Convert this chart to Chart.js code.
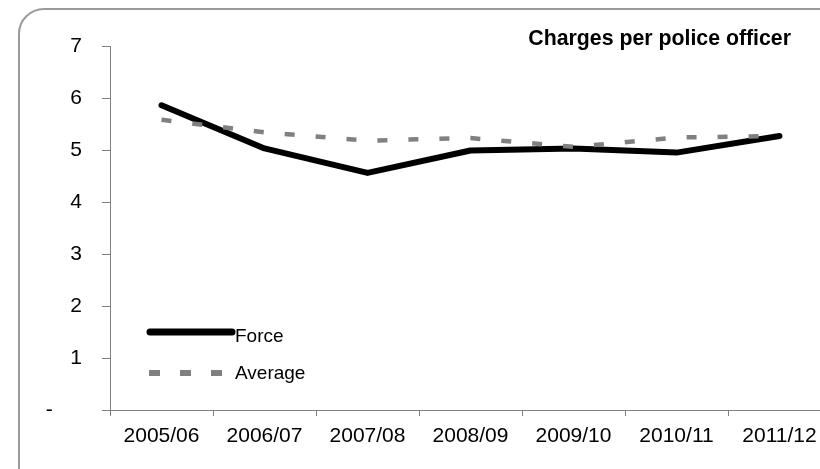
<!DOCTYPE html>
<html>
<head>
<meta charset="utf-8">
<script src="https://cdn.jsdelivr.net/npm/chart.js@4/dist/chart.umd.min.js"></script>
<style>
  html, body { margin: 0; padding: 0; background: #fff; overflow: hidden; }
  .wrap { position: relative; width: 820px; height: 469px; overflow: hidden; }
  .frame {
    position: absolute; left: 18px; top: 8px; width: 900px; height: 520px;
    border: 2px solid #9a9a9a; border-radius: 26px; box-sizing: border-box;
  }
  canvas { position: absolute; left: 0; top: 0; }
</style>
</head>
<body>
<div class="wrap">
  <div class="frame"></div>
  <canvas id="myChart" width="850" height="480"></canvas>
</div>
<script>
// Данные

const categories = ['2005/06', '2006/07', '2007/08', '2008/09', '2009/10', '2010/11', '2011/12']
const forceValues = [5.86, 5.03, 4.56, 4.99, 5.03, 4.95, 5.27]
const averageValues = [5.58, 5.34, 5.18, 5.23, 5.06, 5.24, 5.27]
const yTickLabels = ['-     ', '1', '2', '3', '4', '5', '6', '7']
const chartTitle = 'Charges per police officer'

const font = "'Liberation Sans', Arial, sans-serif"
const axisGray = '#808080'

// Заголовок и легенда внутри области графика

const chartText = {
    id: 'chartText',
    afterDraw(chart) {
        const ctx = chart.ctx
        const area = chart.chartArea
        ctx.save()

        ctx.fillStyle = '#000'
        ctx.font = 'bold 21.3px ' + font
        ctx.textAlign = 'right'
        ctx.textBaseline = 'alphabetic'
        ctx.fillText(chartTitle, area.right - 40, area.top - 1)

        const x0 = area.left + 40
        const x1 = area.left + 122
        const rows = [area.top + 286, area.top + 327]
        chart.data.datasets.forEach((ds, i) => {
            const y = rows[i]
            const dashed = ds.borderDash.length > 0
            ctx.beginPath()
            ctx.strokeStyle = ds.borderColor
            ctx.lineWidth = dashed ? 6 : 7
            ctx.lineCap = dashed ? 'butt' : 'round'
            ctx.setLineDash(dashed ? [11, 20] : [])
            ctx.moveTo(x0 - (dashed ? 1 : 0), y)
            ctx.lineTo(x1, y)
            ctx.stroke()
            ctx.setLineDash([])
            ctx.fillStyle = '#000'
            ctx.font = '19px ' + font
            ctx.textAlign = 'left'
            ctx.textBaseline = 'middle'
            ctx.fillText(ds.label, x1 + 3, y + (i === 0 ? 5 : 1))
        })
        ctx.restore()
    }
}

const ctx = document.getElementById('myChart').getContext('2d')

const myChart = new Chart(ctx, {
    type: 'line',
    data: {
        labels: categories,
        datasets: [{
            label: 'Force',
            data: forceValues,
            borderColor: '#000',
            borderWidth: 6,
            borderDash: [],
            borderCapStyle: 'round',
            borderJoinStyle: 'round',
            pointRadius: 0,
            tension: 0,
            order: 2
        }, {
            label: 'Average',
            data: averageValues,
            borderColor: '#808080',
            borderWidth: 4.5,
            borderDash: [10, 21],
            borderCapStyle: 'butt',
            pointRadius: 0,
            tension: 0,
            order: 1
        }]
    },
    options: {
        responsive: false,
        animation: false,
        devicePixelRatio: 1,
        layout: {
            padding: { top: 46, left: 0, right: 19, bottom: 0 }
        },
        plugins: {
            legend: { display: false },
            tooltip: { enabled: false },
            title: { display: false }
        },
        scales: {
            x: {
                offset: true,
                grid: {
                    offset: true,
                    drawOnChartArea: false,
                    drawTicks: true,
                    tickLength: 6,
                    color: axisGray
                },
                border: { color: axisGray, width: 1 },
                ticks: {
                    color: '#000',
                    font: { family: font, size: 21 },
                    padding: 8,
                    maxRotation: 0,
                    autoSkip: false
                },
                afterFit(scale) { scale.height = 70 }
            },
            y: {
                min: 0,
                max: 7,
                grid: {
                    drawOnChartArea: false,
                    drawTicks: true,
                    tickLength: 8,
                    color: axisGray
                },
                border: { color: axisGray, width: 1 },
                ticks: {
                    stepSize: 1,
                    color: '#000',
                    font: { family: font, size: 21 },
                    padding: 20,
                    callback: function(value) {
                        return yTickLabels[value]
                    }
                },
                afterFit(scale) { scale.width = 110 }
            }
        }
    },
    plugins: [chartText]
})
</script>
</body>
</html>
